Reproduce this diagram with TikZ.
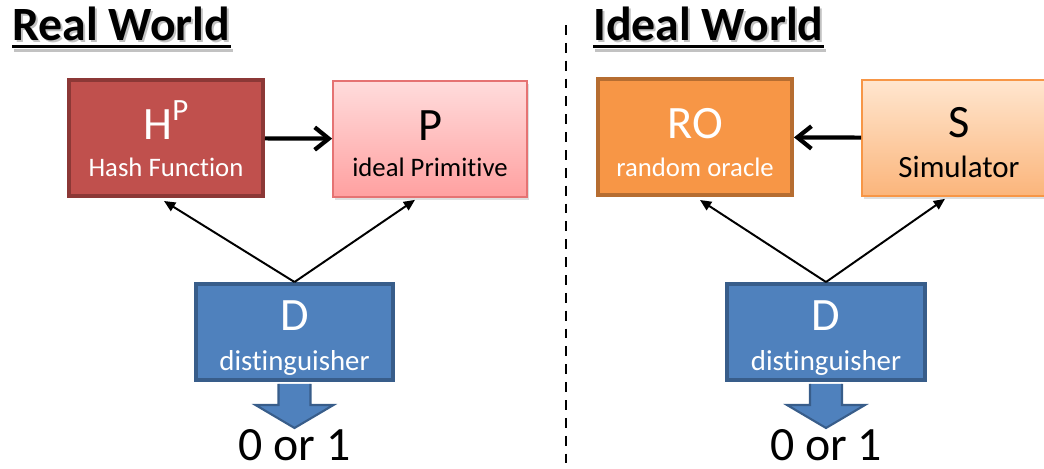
\documentclass[tikz,border=0pt]{standalone}
\usepackage{fontspec}
\setmainfont{Carlito}[Ligatures=NoCommon]
\usetikzlibrary{arrows.meta}
\usetikzlibrary{calc}
\usetikzlibrary{shadows}

\definecolor{hashred}{HTML}{C0504D}
\definecolor{hashredline}{HTML}{8C3836}
\definecolor{primtop}{HTML}{FFDCDC}
\definecolor{primbot}{HTML}{FFA0A0}
\definecolor{primline}{HTML}{E57373}
\definecolor{orfill}{HTML}{F79646}
\definecolor{orline}{HTML}{B66D31}
\definecolor{simtop}{HTML}{FFE6CF}
\definecolor{simbot}{HTML}{FBB57B}
\definecolor{distfill}{HTML}{4F81BD}
\definecolor{distline}{HTML}{385D8A}

% #1 = strut height of the first line, #2 = big letter(s), #3 = small caption
\newcommand{\boxtext}[3]{\rule{0pt}{#1}{\fontsize{33}{26}\selectfont #2}\\#3\rule[-6pt]{0pt}{0pt}}
\newcommand{\supP}{\raisebox{13.5pt}{\fontsize{22}{22}\selectfont P}}

\begin{document}
\begin{tikzpicture}[x=0.025cm,y=-0.025cm,
  box/.style={rectangle,minimum width=4.85cm,minimum height=2.9cm,align=center,inner sep=0pt,font=\fontsize{19}{26}\selectfont},
  hashbox/.style={box,fill=hashred,draw=hashredline,line width=2.8pt,text=white},
  primbox/.style={box,top color=primtop,bottom color=primbot,draw=primline,line width=1.2pt,
    drop shadow={opacity=0.25,shadow xshift=0.4mm,shadow yshift=-0.8mm}},
  orbox/.style={box,fill=orfill,draw=orline,line width=2.8pt,text=white,font=\fontsize{19}{27.5}\selectfont},
  simbox/.style={box,top color=simtop,bottom color=simbot,draw=orfill,line width=1.2pt,
    font=\fontsize{22}{29}\selectfont,
    drop shadow={opacity=0.25,shadow xshift=0.4mm,shadow yshift=-0.8mm}},
  distbox/.style={box,minimum width=4.93cm,minimum height=2.4cm,fill=distfill,draw=distline,
    line width=2.8pt,text=white,font=\fontsize{20.5}{28.5}\selectfont},
  world/.style={anchor=base west,inner sep=0pt,font=\fontsize{34}{34}\selectfont\bfseries},
  bit/.style={anchor=base,inner sep=0pt,font=\fontsize{34}{34}\selectfont},
  call/.style={-{Straight Barb[length=10pt,width=16pt]},line width=3pt,line join=round},
  query/.style={-{Triangle[length=8pt,width=7pt]},line width=1.4pt},
  outarrow/.style={fill=distfill,draw=distline,line width=1.5pt,line join=miter}]

\clip (0,0) rectangle (1044,468);

% titles, with a soft grey copy underneath
\path (14,42) node[world,text=black!40,opacity=.6](Real_sh) {Real World}
      (595,42) node[world,text=black!40,opacity=.6](Ideal_sh) {Ideal World}
      (12,40) node[world](Real) {Real World}
      (593,40) node[world](Ideal) {Ideal World};
\draw[line width=2.2pt,black!40,opacity=.6] ([yshift=-6pt]Real_sh.base west) -- ([yshift=-6pt]Real_sh.base east);
\draw[line width=2.2pt,black!40,opacity=.6] ([yshift=-6pt]Ideal_sh.base west) -- ([yshift=-6pt]Ideal_sh.base east);
\draw[line width=2.2pt] ([yshift=-4.6pt]Real.base west) -- ([yshift=-4.6pt]Real.base east);
\draw[line width=2.2pt] ([yshift=-4.6pt]Ideal.base west) -- ([yshift=-4.6pt]Ideal.base east);

% separator
\draw[dash pattern=on 7pt off 5.7pt,line width=1.5pt] (566,25) -- (566,468);

% real world
\path (166,138) node[hashbox](H) {\boxtext{34.8pt}{H\supP}{Hash Function}}
      (430,139) node[primbox](P) {\boxtext{34pt}{P}{ideal Primitive}}
      (294.5,332) node[distbox](D_real) {\boxtext{31.7pt}{D}{distinguisher}}
      (294.5,460) node[bit](bit_real) {0 or 1};

% ideal world
\path (695,137) node[orbox](RO) {\boxtext{35pt}{RO}{random oracle}}
      (959,138) node[simbox](S) {\boxtext{33.6pt}{S}{Simulator}}
      (826,332) node[distbox](D_ideal) {\boxtext{31.7pt}{D}{distinguisher}}
      (826,460) node[bit](bit_ideal) {0 or 1};

\draw[call] (H) -- (P);
\draw[call] (S) -- (RO);

\draw[query] (D_real.north) -- ($(H.south)+(-2,3)$);
\draw[query] (D_real.north) -- ($(P.south)+(-15,2)$);
\draw[query] (D_ideal.north) -- ($(RO.south)+(5,3)$);
\draw[query] (D_ideal.north) -- ($(S.south)+(-14,2)$);

% output arrows under the distinguishers
\foreach \d in {D_real,D_ideal}
  \draw[outarrow] ($(\d.south)+(-16,2)$) -- ++(0,21) -- ++(-23,0) -- ++(39,23)
    -- ++(39,-23) -- ++(-23,0) -- ++(0,-21);

\end{tikzpicture}
\end{document}
